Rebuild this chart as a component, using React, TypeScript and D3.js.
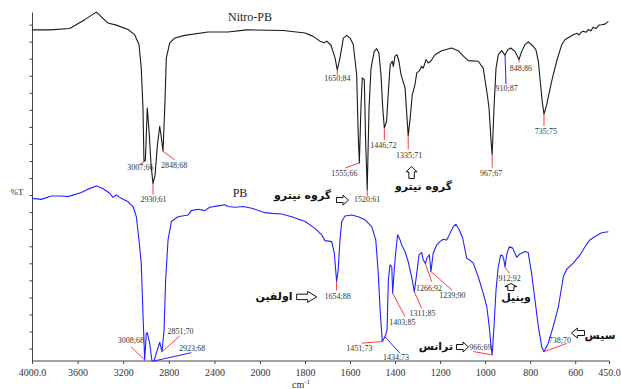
import React, { useRef, useEffect } from 'react';
import * as d3 from 'd3';

// wavenumber axis (cm-1) has a scale break at 2000
const xTicks = [4000, 3600, 3200, 2800, 2400, 2000, 1800, 1600, 1400, 1200, 1000, 800, 600, 450];
const xTickLabels = ['4000.0', '3600', '3200', '2800', '2400', '2000', '1800', '1600', '1400', '1200', '1000', '800', '600', '450.0'];
const yTicks = d3.range(0, 100, 5);

// [cm-1, display %T] (stacked, offset traces)
const nitroPB: [number, number][] = [
  [4000, 93.6], [3847, 93.6], [3674, 94.0], [3542, 96.6], [3440, 98.8], [3338, 95.6], [3265, 95.0],
  [3162, 93.7], [3104, 92.2], [3066, 89.3], [3046, 82.4], [3031, 70.7], [3022, 55.1], [3010, 55.2],
  [3000, 64.2], [2993, 70.7], [2978, 64.2], [2960, 54.0], [2943, 48.5], [2925, 51.0], [2904, 59.9],
  [2884, 65.3], [2873, 62.8], [2855, 58.0], [2840, 70.7], [2826, 85.4], [2796, 89.8], [2753, 91.2],
  [2665, 92.0], [2460, 93.0], [2285, 93.0], [2121, 93.6], [1899, 93.4], [1802, 92.7], [1766, 91.7],
  [1736, 90.3], [1717, 89.8], [1706, 90.3], [1687, 89.1], [1669, 85.4], [1659, 81.9], [1647, 85.4],
  [1632, 91.2], [1617, 92.0], [1602, 91.2], [1588, 89.3], [1573, 80.5], [1566, 62.9], [1561, 54.6],
  [1554, 70.7], [1548, 79.5], [1539, 79.0], [1533, 60.9], [1526, 46.7], [1518, 70.7], [1509, 82.4],
  [1495, 87.3], [1484, 88.1], [1474, 86.8], [1465, 80.5], [1457, 70.7], [1450, 64.8], [1440, 66.8],
  [1432, 75.6], [1424, 83.4], [1415, 84.4], [1410, 82.9], [1403, 85.9], [1394, 86.3], [1385, 84.4],
  [1376, 80.5], [1358, 76.6], [1344, 62.6], [1335, 67.8], [1326, 74.6], [1314, 77.5], [1306, 81.0],
  [1296, 81.5], [1284, 82.9], [1277, 82.4], [1265, 84.9], [1255, 83.9], [1244, 84.4], [1225, 86.3],
  [1195, 87.5], [1151, 88.3], [1122, 87.5], [1099, 85.9], [1077, 84.6], [1033, 84.4], [1011, 82.4],
  [995, 75.6], [985, 70.7], [976, 60.9], [971, 57.0], [963, 70.7], [954, 82.4], [944, 86.3],
  [929, 87.5], [914, 86.2], [902, 87.8], [889, 88.3], [870, 87.3], [852, 84.9], [840, 87.3],
  [825, 89.3], [811, 90.1], [789, 88.8], [777, 87.8], [766, 84.4], [756, 77.5], [749, 72.7],
  [741, 68.9], [729, 71.7], [707, 78.5], [685, 84.4], [662, 89.3], [648, 90.7], [611, 92.2],
  [594, 92.6], [585, 92.1], [576, 92.9], [566, 93.2], [555, 92.9], [544, 93.7], [533, 93.3],
  [522, 94.4], [510, 94.0], [497, 95.0], [485, 95.1], [470, 95.3], [455, 96.1],
];

const pb: [number, number][] = [
  [4000, 44.2], [3923, 43.9], [3835, 44.9], [3747, 44.9], [3689, 44.7], [3572, 45.9], [3513, 46.9],
  [3440, 47.8], [3382, 47.1], [3323, 45.7], [3294, 44.5], [3265, 45.2], [3221, 44.2], [3162, 43.2],
  [3118, 41.8], [3089, 38.8], [3066, 32.0], [3046, 25.2], [3031, 10.5], [3016, -3.2], [3002, 4.6],
  [2993, 4.8], [2972, 1.7], [2952, -3.5], [2934, -3.5], [2914, -1.2], [2884, 2.0], [2864, -0.8],
  [2846, 5.6], [2832, 20.3], [2811, 32.0], [2782, 37.4], [2724, 38.8], [2636, 39.3], [2607, 40.6],
  [2548, 41.0], [2489, 40.6], [2446, 41.6], [2373, 42.0], [2314, 42.3], [2285, 41.8], [2224, 41.6],
  [2151, 41.8], [2077, 41.3], [1980, 40.0], [1950, 39.8], [1906, 39.6], [1861, 38.8], [1802, 37.4],
  [1758, 35.4], [1728, 33.5], [1714, 31.8], [1684, 31.5], [1672, 28.1], [1662, 19.8], [1655, 23.2],
  [1647, 32.0], [1639, 37.4], [1625, 39.0], [1595, 39.3], [1566, 38.8], [1536, 37.9], [1506, 35.9],
  [1488, 32.0], [1477, 22.2], [1468, 10.5], [1459, 2.2], [1447, 3.6], [1438, 5.6], [1432, 20.3],
  [1425, 24.7], [1417, 24.2], [1413, 16.4], [1407, 22.2], [1400, 28.1], [1391, 33.5], [1380, 32.0],
  [1373, 30.5], [1358, 28.6], [1344, 25.6], [1326, 20.3], [1317, 16.8], [1306, 22.2], [1296, 27.6],
  [1284, 28.3], [1277, 26.1], [1268, 25.1], [1261, 26.7], [1250, 27.6], [1243, 22.7], [1233, 28.1],
  [1218, 30.5], [1203, 31.5], [1188, 32.2], [1173, 32.0], [1158, 34.0], [1144, 35.9], [1132, 36.6],
  [1117, 34.9], [1102, 32.5], [1084, 26.6], [1070, 26.1], [1055, 25.2], [1033, 21.2], [1011, 16.4],
  [995, 12.4], [984, 6.6], [976, 0.7], [971, -1.7], [963, 6.6], [954, 17.3], [944, 24.2], [933, 27.6],
  [924, 27.3], [919, 26.1], [914, 24.0], [907, 27.6], [895, 30.0], [880, 29.6], [862, 26.9],
  [848, 27.9], [825, 28.6], [811, 28.3], [796, 22.2], [781, 14.4], [766, 6.6], [751, 0.7], [741, -0.8],
  [722, 1.7], [700, 6.6], [677, 12.4], [655, 21.2], [640, 23.4], [611, 25.2], [581, 27.6], [559, 30.0],
  [537, 32.0], [514, 33.0], [485, 34.1], [455, 34.4],
];

type Peak = { wn: number; t: number; text: string; lx: number; ly: number; tx: number; ty: number; blue?: boolean };

const nitroPeaks: Peak[] = [
  { wn: 3010, t: 55.2, text: '3007;66', lx: -6, ly: 4, tx: -5, ty: 9 },
  { wn: 2943, t: 48.5, text: '2930;61', lx: 0, ly: 11, tx: 0.5, ty: 18 },
  { wn: 2855, t: 58.0, text: '2848;68', lx: 11.7, ly: 8.4, tx: 11, ty: 16.7 },
  { wn: 1659, t: 81.9, text: '1650;84', lx: 0, ly: 5, tx: 0, ty: 11 },
  { wn: 1561, t: 54.6, text: '1555;66', lx: -14, ly: 5, tx: -15, ty: 13 },
  { wn: 1526, t: 46.7, text: '1520;61', lx: 0, ly: 6, tx: 0, ty: 12.3 },
  { wn: 1450, t: 64.8, text: '1446;72', lx: 0, ly: 12, tx: -1, ty: 20 },
  { wn: 1344, t: 62.6, text: '1335;71', lx: 0, ly: 14, tx: 1, ty: 22 },
  { wn: 971, t: 57.0, text: '967;67', lx: 0, ly: 13, tx: -1, ty: 21 },
  { wn: 914, t: 86.2, text: '910;87', lx: 1, ly: 29, tx: 1.5, ty: 35.5, blue: true },
  { wn: 852, t: 84.9, text: '848;86', lx: 0, ly: 3, tx: 2, ty: 11 },
  { wn: 741, t: 68.9, text: '735;75', lx: 0, ly: 12, tx: 2, ty: 20 },
];

const pbPeaks: Peak[] = [
  { wn: 3016, t: -3.2, text: '3008;68', lx: -13.7, ly: -13.3, tx: -13.7, ty: -17 },
  { wn: 2864, t: -0.8, text: '2851;70', lx: 17.7, ly: -15.7, tx: 18.5, ty: -17.7 },
  { wn: 2934, t: -3.5, text: '2923;68', lx: 37.3, ly: -8.3, tx: 38, ty: -10.3, blue: true },
  { wn: 1662, t: 19.8, text: '1654;88', lx: 0, ly: 9, tx: 1, ty: 17.3 },
  { wn: 1459, t: 2.2, text: '1451;73', lx: -20.6, ly: 1.6, tx: -23, ty: 9.3 },
  { wn: 1447, t: 3.6, text: '1434;73', lx: 15, ly: 16.6, tx: 11, ty: 23, blue: true },
  { wn: 1413, t: 16.4, text: '1403;85', lx: 12.3, ly: 23.4, tx: 9.8, ty: 31.4 },
  { wn: 1317, t: 16.8, text: '1311;85', lx: 7.4, ly: 16.6, tx: 8.2, ty: 24.6 },
  { wn: 1268, t: 25.1, text: '1266;92', lx: 6.4, ly: 18.2, tx: 3.7, ty: 27.8 },
  { wn: 1243, t: 22.7, text: '1239;90', lx: 21, ly: 18.3, tx: 21.5, ty: 26.3 },
  { wn: 914, t: 24.0, text: '912;92', lx: 4.3, ly: 6, tx: 4.7, ty: 13.4 },
  { wn: 971, t: -1.7, text: '966;69', lx: -19, ly: -3.3, tx: -11.8, ty: -5 },
  { wn: 741, t: -0.8, text: '738;70', lx: 22.7, ly: -8.4, tx: 16, ty: -9 },
];

const captions = [
  { wn: 1276, t: 46.7, text: 'گروه نیترو' },
  { wn: 1813, t: 44.0, text: 'گروه نیترو' },
  { wn: 1940, t: 14.4, text: 'اولفین' },
  { wn: 865, t: 14.1, text: 'وینیل' },
  { wn: 1221, t: -0.3, text: 'ترانس' },
  { wn: 492, t: 3.0, text: 'سیس' },
];

const arrows = [
  { wn: 1329, t: 51.8, dir: 'up', len: 12, wid: 11 },
  { wn: 1636, t: 43.7, dir: 'right', len: 12, wid: 10 },
  { wn: 1795, t: 15.3, dir: 'right', len: 20, wid: 11 },
  { wn: 888, t: 18.2, dir: 'up', len: 7, wid: 12 },
  { wn: 1103, t: 0.6, dir: 'right', len: 12, wid: 10 },
  { wn: 590, t: 4.7, dir: 'left', len: 13, wid: 10 },
];

const seriesNames = [
  { wn: 2092, t: 96.2, text: 'Nitro-PB' },
  { wn: 2180, t: 44.6, text: 'PB' },
];

const arrowPath = (L: number, B: number) => {
  const hl = L * 0.45;
  const b = B * 0.5;
  return `M${-L / 2},${-b / 2}L${L / 2 - hl},${-b / 2}L${L / 2 - hl},${-B / 2}L${L / 2},0L${L / 2 - hl},${B / 2}L${L / 2 - hl},${b / 2}L${-L / 2},${b / 2}Z`;
};

const App: React.FC = () => {
  const svgRef = useRef<SVGSVGElement>(null);

  useEffect(() => {
    const svg = d3.select(svgRef.current);
    svg.selectAll('*').remove();

    const x = d3.scaleLinear().domain([4000, 2000, 450]).range([32.5, 260.5, 609.5]);
    const y = d3.scaleLinear().domain([-3.5, 98.7]).range([361, 12.5]);
    const serif = 'Liberation Serif, Times New Roman, serif';

    // axes
    svg.append('line').attr('x1', x(4000)).attr('x2', x(4000)).attr('y1', y.range()[1]).attr('y2', y.range()[0])
      .attr('stroke', '#444').attr('stroke-width', 1);
    svg.append('line').attr('x1', x(4000)).attr('x2', x(450)).attr('y1', y.range()[0]).attr('y2', y.range()[0])
      .attr('stroke', '#444').attr('stroke-width', 1);

    svg.append('g').selectAll('line').data(yTicks).join('line')
      .attr('x1', x(4000) - 3).attr('x2', x(4000))
      .attr('y1', (d) => y(d)).attr('y2', (d) => y(d))
      .attr('stroke', '#444');

    svg.append('g').selectAll('line').data(xTicks).join('line')
      .attr('x1', (d) => x(d)).attr('x2', (d) => x(d))
      .attr('y1', y.range()[0]).attr('y2', y.range()[0] + 3)
      .attr('stroke', '#444');

    svg.append('g').selectAll('text').data(xTicks).join('text')
      .attr('x', (d) => x(d)).attr('y', 376)
      .attr('text-anchor', 'middle')
      .attr('font-family', serif).attr('font-size', 10).attr('fill', '#333')
      .text((d, i) => xTickLabels[i]);

    const unit = svg.append('text').attr('x', 292).attr('y', 388)
      .attr('font-family', serif).attr('font-size', 10).attr('fill', '#333').text('cm');
    unit.append('tspan').attr('dy', -4).attr('font-size', 7).text('-1');

    svg.append('text').attr('x', 17).attr('y', 195).attr('text-anchor', 'middle')
      .attr('font-family', serif).attr('font-size', 9).attr('fill', '#333').text('%T');

    // traces
    const line = d3.line<[number, number]>().x((d) => x(d[0])).y((d) => y(d[1]));
    svg.append('path').datum(nitroPB).attr('d', line).attr('fill', 'none')
      .attr('stroke', '#1a1a1a').attr('stroke-width', 1.1).attr('stroke-linejoin', 'round');
    svg.append('path').datum(pb).attr('d', line).attr('fill', 'none')
      .attr('stroke', '#2222ff').attr('stroke-width', 1.1).attr('stroke-linejoin', 'round');

    // peak labels
    const peaks = [...nitroPeaks, ...pbPeaks];
    const pg = svg.append('g');
    pg.selectAll('line').data(peaks).join('line')
      .attr('x1', (d) => x(d.wn)).attr('y1', (d) => y(d.t))
      .attr('x2', (d) => x(d.wn) + d.lx).attr('y2', (d) => y(d.t) + d.ly)
      .attr('stroke', (d) => (d.blue ? '#2222ff' : '#ff3b3b')).attr('stroke-width', 1);
    pg.selectAll('text').data(peaks).join('text')
      .attr('x', (d) => x(d.wn) + d.tx).attr('y', (d) => y(d.t) + d.ty)
      .attr('text-anchor', 'middle')
      .attr('font-family', serif).attr('font-size', 8).attr('fill', '#333')
      .text((d) => d.text);

    // series names
    svg.append('g').selectAll('text').data(seriesNames).join('text')
      .attr('x', (d) => x(d.wn)).attr('y', (d) => y(d.t))
      .attr('text-anchor', 'middle')
      .attr('font-family', serif).attr('font-size', 12).attr('fill', '#222')
      .text((d) => d.text);

    // persian captions
    svg.append('g').selectAll('text').data(captions).join('text')
      .attr('x', (d) => x(d.wn)).attr('y', (d) => y(d.t))
      .attr('text-anchor', 'middle').attr('direction', 'rtl')
      .attr('font-family', 'DejaVu Sans, sans-serif').attr('font-weight', 'bold')
      .attr('font-size', 11).attr('fill', '#111')
      .text((d) => d.text);

    // hollow arrows
    const rot: Record<string, number> = { right: 0, up: -90, left: 180 };
    svg.append('g').selectAll('path').data(arrows).join('path')
      .attr('d', (d) => arrowPath(d.len, d.wid))
      .attr('transform', (d) => `translate(${x(d.wn)},${y(d.t)}) rotate(${rot[d.dir]})`)
      .attr('fill', '#fff').attr('stroke', '#111').attr('stroke-width', 1);
  }, []);

  return (
    <div style={{ position: 'absolute', left: 0, top: 0 }}>
      <svg ref={svgRef} width={621} height={389} style={{ display: 'block', background: '#fff' }} />
    </div>
  );
};

export default App;
